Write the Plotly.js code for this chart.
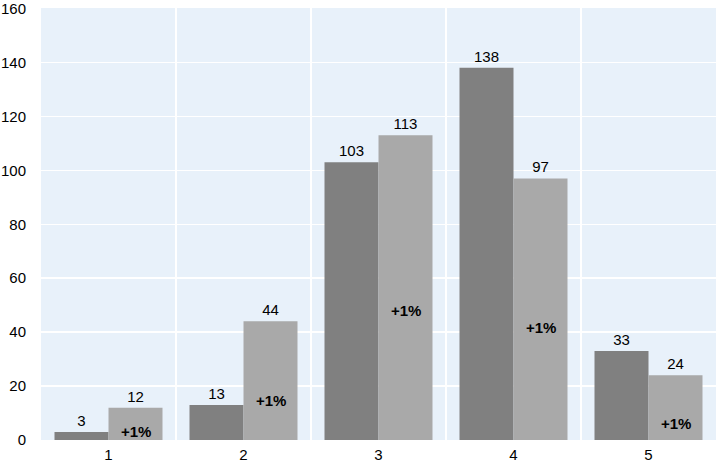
<!DOCTYPE html>
<html><head><meta charset="utf-8">
<script src="https://cdn.plot.ly/plotly-3.0.1.min.js"></script>
<style>html,body{margin:0;padding:0;background:#fff;}#chart{width:716px;height:470px;}</style>
</head><body><div id="chart"></div>
<script>
var categories = ['1', '2', '3', '4', '5'];
var seriesA = [3, 13, 103, 138, 33];
var seriesB = [12, 44, 113, 97, 24];
var noteText = ['+1%', '+1%', '+1%', '+1%', '+1%'];
var noteY = [3.3, 14.6, 48, 41.6, 6.3];

var font = {family: 'Liberation Sans, Arial, sans-serif', size: 15, color: '#000'};
var traces = [
  {type: 'bar', x: categories, y: seriesA, marker: {color: '#808080'},
   text: seriesA.map(String), textposition: 'outside', textfont: font, cliponaxis: false, hoverinfo: 'none'},
  {type: 'bar', x: categories, y: seriesB, marker: {color: '#a9a9a9'},
   text: seriesB.map(String), textposition: 'outside', textfont: font, cliponaxis: false, hoverinfo: 'none'}
];
var annotations = categories.map(function (c, i) {
  return {x: i, y: noteY[i], xref: 'x', yref: 'y', text: '<b>' + noteText[i] + '</b>',
    showarrow: false, xshift: 27, font: {family: font.family, size: 15, color: '#000'}};
});
var layout = {
  width: 716, height: 470,
  margin: {l: 41, r: 0, t: 8, b: 30},
  paper_bgcolor: '#ffffff', plot_bgcolor: '#e8f1fa',
  barmode: 'group', bargap: 0.2, bargroupgap: 0,
  showlegend: false,
  font: font,
  xaxis: {type: 'category', range: [-0.5, 4.5], tickson: 'boundaries', showgrid: true, gridcolor: '#ffffff', gridwidth: 1.5,
    ticks: '', showline: false, zeroline: false, tickfont: font, ticklabelstandoff: 4},
  yaxis: {range: [0, 160.2], tickmode: 'array', tickvals: [0, 20, 40, 60, 80, 100, 120, 140, 160],
    showgrid: true, gridcolor: '#ffffff', gridwidth: 1.5, ticklabeloverflow: 'allow',
    zeroline: false, showline: false, ticks: '', tickfont: font, ticklabelstandoff: 14},
  annotations: annotations
};
Plotly.newPlot('chart', traces, layout, {displayModeBar: false, staticPlot: true});
</script></body></html>
